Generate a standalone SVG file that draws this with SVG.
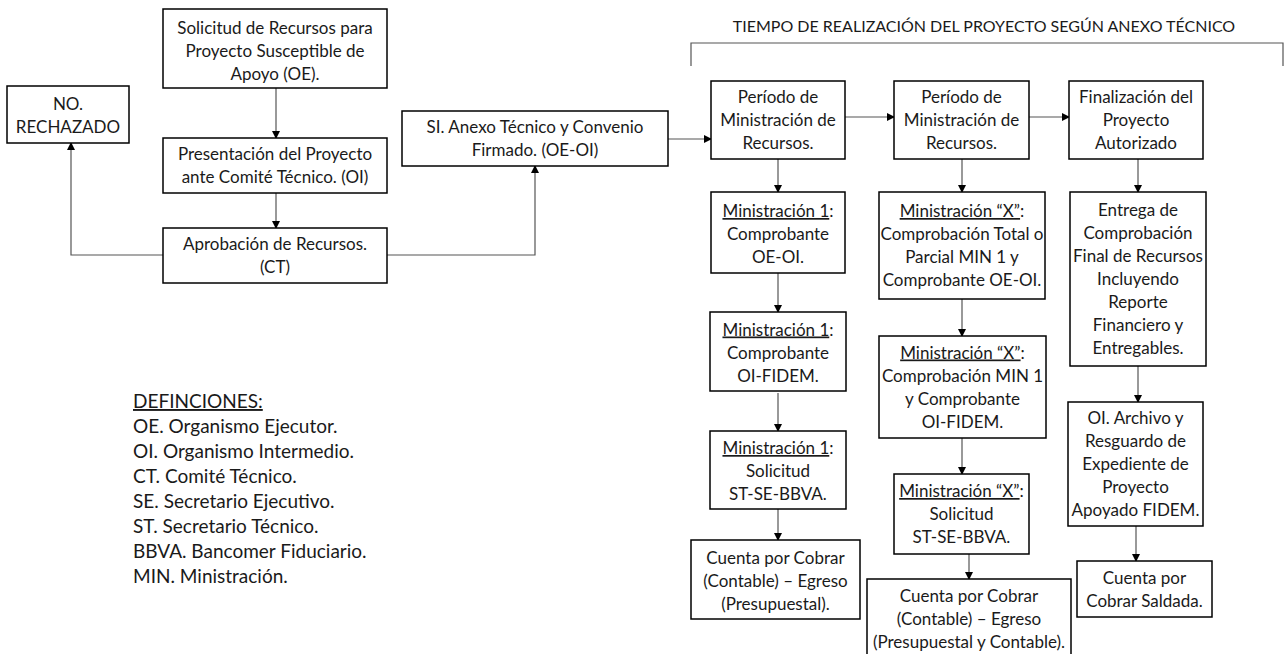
<svg xmlns="http://www.w3.org/2000/svg" width="1287" height="654" viewBox="0 0 1287 654">
<defs>
<style>
.box{fill:#fff;stroke:#000;stroke-width:1.5}
.t{font-family:Lato,"Open Sans",sans-serif;font-size:17px;fill:#1a1a1a;text-anchor:middle}
.d{font-family:Lato,"Open Sans",sans-serif;font-size:19px;fill:#1a1a1a}
.c{fill:none;stroke:#555;stroke-width:1.2}
.u{text-decoration:underline}
</style>
<marker id="ah" markerWidth="8" markerHeight="8" refX="7" refY="4" orient="auto" markerUnits="userSpaceOnUse">
<path d="M0,0 L8,4 L0,8 Z" fill="#000"/>
</marker>
</defs>
<rect width="1287" height="654" fill="#fff"/>

<g id="connectors">
<path class="c" d="M276,88 V138" marker-end="url(#ah)"/>
<path class="c" d="M276,193 V228" marker-end="url(#ah)"/>
<path class="c" d="M163,255 H71 V143" marker-end="url(#ah)"/>
<path class="c" d="M387,255 H535 V166" marker-end="url(#ah)"/>
<path class="c" d="M668,139 H711" marker-end="url(#ah)"/>
<path class="c" d="M845,117 H894" marker-end="url(#ah)"/>
<path class="c" d="M1029,117 H1069" marker-end="url(#ah)"/>
<path class="c" d="M778,159 V192" marker-end="url(#ah)"/>
<path class="c" d="M778,273 V312" marker-end="url(#ah)"/>
<path class="c" d="M778,393 V431" marker-end="url(#ah)"/>
<path class="c" d="M778,509 V540" marker-end="url(#ah)"/>
<path class="c" d="M962,159 V192" marker-end="url(#ah)"/>
<path class="c" d="M962,299 V336" marker-end="url(#ah)"/>
<path class="c" d="M962,438 V474" marker-end="url(#ah)"/>
<path class="c" d="M969,554 V579" marker-end="url(#ah)"/>
<path class="c" d="M1138,159 V192" marker-end="url(#ah)"/>
<path class="c" d="M1138,366 V402" marker-end="url(#ah)"/>
<path class="c" d="M1136,526 V561" marker-end="url(#ah)"/>
</g>

<g id="title">
<path class="c" d="M691,66 V43 H1283 V66"/>
<text class="t" x="984" y="32" style="font-size:16px">TIEMPO DE REALIZACIÓN DEL PROYECTO SEGÚN ANEXO TÉCNICO</text>
</g>

<g id="solicitud">
<rect class="box" x="163" y="9" width="224" height="79"/>
<text class="t" x="275" y="34">Solicitud de Recursos para</text>
<text class="t" x="275" y="57">Proyecto Susceptible de</text>
<text class="t" x="275" y="80">Apoyo (OE).</text>
</g>

<g id="rechazado">
<rect class="box" x="7" y="86" width="122" height="57"/>
<text class="t" x="68" y="110">NO.</text>
<text class="t" x="68" y="133">RECHAZADO</text>
</g>

<g id="presentacion">
<rect class="box" x="163" y="138" width="224" height="55"/>
<text class="t" x="275" y="160">Presentación del Proyecto</text>
<text class="t" x="275" y="183">ante Comité Técnico. (OI)</text>
</g>

<g id="aprobacion">
<rect class="box" x="163" y="228" width="224" height="55"/>
<text class="t" x="275" y="250">Aprobación de Recursos.</text>
<text class="t" x="275" y="273">(CT)</text>
</g>

<g id="si">
<rect class="box" x="402" y="111" width="266" height="55"/>
<text class="t" x="535" y="133">SI. Anexo Técnico y Convenio</text>
<text class="t" x="535" y="156">Firmado. (OE-OI)</text>
</g>

<g id="periodo1">
<rect class="box" x="711" y="81" width="134" height="78"/>
<text class="t" x="778" y="103">Período de</text>
<text class="t" x="778" y="126">Ministración de</text>
<text class="t" x="778" y="149">Recursos.</text>
</g>

<g id="periodo2">
<rect class="box" x="894" y="81" width="135" height="78"/>
<text class="t" x="961.5" y="103">Período de</text>
<text class="t" x="961.5" y="126">Ministración de</text>
<text class="t" x="961.5" y="149">Recursos.</text>
</g>

<g id="finalizacion">
<rect class="box" x="1069" y="81" width="134" height="78"/>
<text class="t" x="1136" y="103">Finalización del</text>
<text class="t" x="1136" y="126">Proyecto</text>
<text class="t" x="1136" y="149">Autorizado</text>
</g>

<g id="min1a">
<rect class="box" x="711" y="192" width="134" height="81"/>
<text class="t" x="778" y="217"><tspan class="u">Ministración 1</tspan>:</text>
<text class="t" x="778" y="240">Comprobante</text>
<text class="t" x="778" y="263">OE-OI.</text>
</g>

<g id="min1b">
<rect class="box" x="710" y="312" width="136" height="79"/>
<text class="t" x="778" y="335.5"><tspan class="u">Ministración 1</tspan>:</text>
<text class="t" x="778" y="358.5">Comprobante</text>
<text class="t" x="778" y="381.5">OI-FIDEM.</text>
</g>

<g id="min1c">
<rect class="box" x="710" y="431" width="136" height="78"/>
<text class="t" x="778" y="454"><tspan class="u">Ministración 1</tspan>:</text>
<text class="t" x="778" y="477">Solicitud</text>
<text class="t" x="778" y="500">ST-SE-BBVA.</text>
</g>

<g id="cuenta1">
<rect class="box" x="691" y="540" width="169" height="79"/>
<text class="t" x="775.5" y="563.5">Cuenta por Cobrar</text>
<text class="t" x="775.5" y="586.5">(Contable) – Egreso</text>
<text class="t" x="775.5" y="609.5">(Presupuestal).</text>
</g>

<g id="minXa">
<rect class="box" x="879" y="192" width="166" height="107"/>
<text class="t" x="962" y="217"><tspan class="u">Ministración “X”</tspan>:</text>
<text class="t" x="962" y="240">Comprobación Total o</text>
<text class="t" x="962" y="263">Parcial MIN 1 y</text>
<text class="t" x="962" y="286">Comprobante OE-OI.</text>
</g>

<g id="minXb">
<rect class="box" x="879" y="336" width="167" height="102"/>
<text class="t" x="962.5" y="358.5"><tspan class="u">Ministración “X”</tspan>:</text>
<text class="t" x="962.5" y="381.5">Comprobación MIN 1</text>
<text class="t" x="962.5" y="404.5">y Comprobante</text>
<text class="t" x="962.5" y="427.5">OI-FIDEM.</text>
</g>

<g id="minXc">
<rect class="box" x="894" y="474" width="135" height="80"/>
<text class="t" x="961.5" y="497"><tspan class="u">Ministración “X”</tspan>:</text>
<text class="t" x="961.5" y="520">Solicitud</text>
<text class="t" x="961.5" y="543">ST-SE-BBVA.</text>
</g>

<g id="cuenta2">
<rect class="box" x="867" y="579" width="204" height="82"/>
<text class="t" x="969" y="602">Cuenta por Cobrar</text>
<text class="t" x="969" y="625">(Contable) – Egreso</text>
<text class="t" x="969" y="648">(Presupuestal y Contable).</text>
</g>

<g id="entrega">
<rect class="box" x="1070" y="192" width="136" height="174"/>
<text class="t" x="1138" y="216">Entrega de</text>
<text class="t" x="1138" y="239">Comprobación</text>
<text class="t" x="1138" y="262">Final de Recursos</text>
<text class="t" x="1138" y="285">Incluyendo</text>
<text class="t" x="1138" y="308">Reporte</text>
<text class="t" x="1138" y="331">Financiero y</text>
<text class="t" x="1138" y="354">Entregables.</text>
</g>

<g id="archivo">
<rect class="box" x="1068" y="402" width="135" height="124"/>
<text class="t" x="1135.5" y="424">OI. Archivo y</text>
<text class="t" x="1135.5" y="447">Resguardo de</text>
<text class="t" x="1135.5" y="470">Expediente de</text>
<text class="t" x="1135.5" y="493">Proyecto</text>
<text class="t" x="1135.5" y="516">Apoyado FIDEM.</text>
</g>

<g id="saldada">
<rect class="box" x="1077" y="561" width="135" height="56"/>
<text class="t" x="1144.5" y="583.5">Cuenta por</text>
<text class="t" x="1144.5" y="606.5">Cobrar Saldada.</text>
</g>

<g id="definiciones">
<text class="d" x="133" y="408"><tspan class="u">DEFINCIONES:</tspan></text>
<text class="d" x="133" y="433">OE. Organismo Ejecutor.</text>
<text class="d" x="133" y="458">OI. Organismo Intermedio.</text>
<text class="d" x="133" y="483">CT. Comité Técnico.</text>
<text class="d" x="133" y="508">SE. Secretario Ejecutivo.</text>
<text class="d" x="133" y="533">ST. Secretario Técnico.</text>
<text class="d" x="133" y="558">BBVA. Bancomer Fiduciario.</text>
<text class="d" x="133" y="583">MIN. Ministración.</text>
</g>
</svg>
